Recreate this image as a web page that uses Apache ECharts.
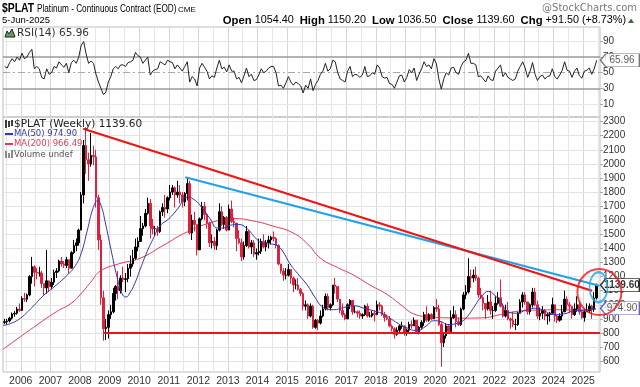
<!DOCTYPE html>
<html><head><meta charset="utf-8">
<script src="https://cdn.jsdelivr.net/npm/echarts@6/dist/echarts.min.js"></script>
<style>html,body{margin:0;padding:0;background:#fff}#c{width:640px;height:387px}</style>
</head><body><div id="c"></div>
<script>
// ---------- data (monthly) ----------
const startYear = 2005, startMonth = 6;   // first bar: June 2005
const firstOpen = 875;
const closes = [
 880,885,905,935,940,970,960,
 1045,1040,1070,1200,1270,1230,1225,1225,1150,1120,1170,1130,
 1160,1230,1240,1310,1290,1280,1320,1260,1370,1420,1440,1530,
 1780,2130,2030,2000,2060,2050,1760,1460,1050,830,840,930,
 950,1080,1130,1100,1190,1180,1185,1260,1290,1330,1410,1450,
 1540,1560,1650,1720,1560,1540,1540,1520,1660,1690,1680,1760,
 1800,1830,1780,1800,1780,1730,1790,1860,1510,1600,1570,1390,
 1610,1700,1640,1580,1440,1450,1420,1530,1660,1570,1620,1530,
 1680,1590,1580,1470,1440,1340,1420,1520,1410,1440,1360,1370,
 1380,1450,1410,1440,1460,1480,1470,1420,1290,1240,1210,1210,
 1250,1190,1140,1140,1110,1080,990,1000,920,990,840,890,
 870,920,970,1060,980,1000,1140,1130,1040,960,930,900,
 1000,1030,950,950,940,920,930,990,920,920,940,930,
 1000,990,930,910,900,850,830,790,820,850,850,795,
 820,860,850,890,810,840,875,930,890,930,900,980,
 970,860,730,780,850,810,910,930,880,860,970,1070,
 1090,1200,1190,1210,1190,1070,1050,1010,970,1020,960,960,
 1010,1050,990,920,960,900,890,860,860,940,1020,1070,
 1020,950,1000,1090,1000,920,940,960,920,930,940,1000,
 920,890,920,950,1040,1000,990,930,970,1000,950,910,
 950,960,990,970,1048,1139.6];
const highs = [
 900,900,915,945,955,985,1010,
 1060,1085,1080,1210,1340,1280,1260,1270,1240,1150,1390,1170,
 1190,1250,1260,1320,1340,1310,1340,1320,1380,1460,1470,1540,
 1800,2170,2260,2080,2220,2130,2100,1780,1500,1100,900,960,
 1000,1120,1140,1240,1210,1270,1225,1290,1350,1390,1470,1480,
 1630,1580,1680,1760,1750,1610,1560,1560,1670,1720,1780,1770,
 1850,1850,1840,1880,1850,1800,1800,1900,1880,1640,1660,1530,
 1620,1730,1730,1650,1590,1500,1480,1540,1720,1700,1630,1630,
 1710,1740,1620,1570,1530,1470,1450,1560,1530,1460,1460,1400,
 1470,1470,1500,1460,1490,1490,1520,1480,1430,1290,1260,1260,
 1290,1250,1200,1180,1190,1120,1090,1030,1010,1010,1000,900,
 900,960,1000,1080,1080,1010,1140,1190,1100,1040,1010,940,
 1010,1040,1030,990,960,960,940,1000,1010,950,960,960,
 1030,1020,1000,950,930,920,860,840,840,860,880,850,
 830,880,890,910,880,850,890,950,990,940,940,990,
 1040,1000,880,800,870,860,960,990,960,910,980,1090,
 1140,1330,1250,1250,1270,1200,1120,1060,1010,1070,1100,990,
 1060,1090,1180,1010,1000,1020,910,950,900,950,1040,1090,
 1090,1020,1010,1120,1120,1030,980,990,970,940,950,1050,
 950,930,940,1000,1100,1060,1020,970,1010,1060,1020,960,
 970,1010,1010,1000,1090,1150.2];
const lows = [
 862,860,875,895,915,930,950,
 960,1020,1020,1060,1150,1130,1180,1200,1120,1070,1080,1090,
 1110,1140,1190,1230,1270,1260,1260,1220,1260,1360,1380,1420,
 1530,1720,1930,1880,1980,1990,1690,1390,1000,745,750,760,
 900,940,1030,1040,1080,1160,1090,1160,1200,1270,1320,1380,
 1480,1490,1550,1640,1470,1500,1490,1490,1510,1630,1620,1650,
 1740,1780,1690,1760,1720,1690,1700,1740,1500,1460,1520,1350,
 1400,1600,1600,1540,1410,1400,1390,1390,1520,1560,1540,1520,
 1540,1580,1550,1380,1430,1310,1320,1410,1400,1360,1340,1320,
 1350,1360,1400,1380,1400,1430,1450,1400,1280,1220,1170,1180,
 1200,1150,1090,1110,1100,1060,960,960,900,910,830,830,
 820,860,910,960,960,960,990,1080,1020,940,910,890,
 900,970,930,940,910,900,900,920,910,910,910,880,
 930,960,920,880,890,840,810,760,780,800,830,780,
 780,800,830,860,800,790,830,850,880,880,890,900,
 950,850,560,700,760,800,810,900,840,850,850,960,
 1040,1080,1120,1160,1170,1050,1040,960,900,960,930,900,
 950,1000,980,910,910,890,830,840,820,850,950,980,
 1000,930,930,980,990,900,890,900,890,860,880,940,
 880,870,880,890,950,960,940,900,920,950,930,900,
 880,950,940,900,950,1036.5];
const rsi = [
 58,56,63,68,64,70,66,
 75,68,70,76,80,55,58,55,44,42,55,48,
 50,58,56,64,60,57,62,50,63,66,62,70,
 85,90,74,62,65,62,48,38,30,22,25,38,
 45,55,58,55,60,60,58,63,64,66,76,72,
 70,62,66,70,47,52,54,55,64,62,60,66,
 64,63,55,60,56,52,58,64,38,45,42,33,
 56,62,57,52,42,46,44,56,66,55,57,51,
 60,52,52,42,44,37,46,56,45,48,40,41,
 47,55,50,52,56,58,58,50,33,34,30,37,
 45,38,34,38,36,33,24,34,30,42,27,35,
 40,48,52,62,52,55,66,64,50,42,40,38,
 52,58,45,48,47,44,47,58,45,46,50,48,
 60,56,45,43,44,36,35,30,38,46,47,38,
 44,54,50,56,40,48,55,64,58,60,55,68,
 62,42,29,42,50,47,56,57,50,48,58,64,
 66,75,62,62,60,45,46,42,38,46,41,40,
 52,56,60,45,50,44,42,40,42,52,58,64,
 56,44,52,63,48,40,45,47,42,45,46,55,
 45,42,47,53,64,53,52,44,52,56,46,43,
 52,53,56,48,55,65.96];
const ma50 = [[2005.40,853],[2005.7,870],[2006.0,907],[2006.4,985],[2006.75,1062],[2007.2,1140],[2007.57,1210],[2007.85,1280],[2008.05,1370],[2008.25,1530],[2008.45,1690],[2008.6,1740],[2008.72,1700],[2008.85,1590],[2009.05,1390],[2009.25,1200],[2009.42,1080],[2009.55,1055],[2009.7,1090],[2009.85,1150],[2010.05,1260],[2010.27,1378],[2010.5,1480],[2010.7,1560],[2011.0,1610],[2011.3,1680],[2011.63,1765],[2011.9,1740],[2012.1,1695],[2012.4,1610],[2012.64,1545],[2012.85,1545],[2013.08,1565],[2013.35,1570],[2013.65,1540],[2013.95,1470],[2014.2,1435],[2014.5,1430],[2014.67,1420],[2014.85,1380],[2015.1,1290],[2015.4,1210],[2015.68,1140],[2015.95,1050],[2016.2,985],[2016.57,965],[2016.9,980],[2017.25,993],[2017.6,975],[2017.93,957],[2018.3,930],[2018.6,887],[2019.0,840],[2019.4,817],[2019.7,850],[2019.95,887],[2020.2,880],[2020.43,860],[2020.7,865],[2020.9,880],[2021.1,920],[2021.35,995],[2021.57,1060],[2021.8,1095],[2022.0,1070],[2022.25,1010],[2022.45,950],[2022.75,940],[2023.1,965],[2023.4,975],[2023.7,955],[2024.0,930],[2024.35,935],[2024.7,957],[2025.0,960],[2025.43,974.9]];
const ma200 = [[2005.40,684],[2005.9,760],[2006.42,838],[2007.2,950],[2007.7,1010],[2008.0,1070],[2008.4,1170],[2008.68,1238],[2009.3,1290],[2010.03,1330],[2010.8,1420],[2011.63,1518],[2012.52,1589],[2013.2,1612],[2013.86,1595],[2014.5,1560],[2015.2,1510],[2015.7,1430],[2016.13,1330],[2016.7,1265],[2017.25,1210],[2017.8,1140],[2018.4,1070],[2018.9,990],[2019.28,935],[2019.8,915],[2020.43,907],[2021.0,905],[2021.57,907],[2022.2,930],[2022.9,957],[2023.5,962],[2024.0,965],[2024.7,963],[2025.43,966.49]];
const yearLabels = [2006,2007,2008,2009,2010,2011,2012,2013,2014,2015,2016,2017,2018,2019,2020,2021,2022,2023,2024,2025];
const halfYearGrid = [2005.5,2006,2006.5,2007,2007.5,2008,2008.5,2009,2009.5,2010,2010.5,2011,2011.5,2012,2012.5,2013,2013.5,2014,2014.5,2015,2015.5,2016,2016.5,2017,2017.5,2018,2018.5,2019,2019.5,2020,2020.5,2021,2021.5,2022,2022.5,2023,2023.5,2024,2024.5,2025,2025.5];
const priceTicks = [600,700,800,900,1000,1100,1200,1300,1400,1500,1600,1700,1800,1900,2000,2100,2200,2300];
const rsiTicks = [10,30,50,70,90];
const supportLine = [[2008.8,800],[2025.57,800]];
const redTrend = [[2008.11,2250],[2025.3,1100]];
const blueTrend = [[2011.56,1905],[2025.55,1135]];
const redCircle = [[2025.55,1090]];
const blueEllipse = [[2025.52,1125]];
const lastClose = 1139.60, lastMa50 = 974.90, lastMa200 = 966.49, lastRsi = 65.96;
const X_MIN = 2005.40, X_MAX = 2025.57;

// ---------- build ----------
const monthX = i => startYear + (startMonth - 1 + i + 0.5) / 12;
const ohlc = closes.map((c, i) => {
  const o = i ? closes[i - 1] : firstOpen;
  return [monthX(i), o, c, Math.min(lows[i], o, c), Math.max(highs[i], o, c)];
});
const rsiData = rsi.map((v, i) => [monthX(i), v]);
const UP = '#000000', DOWN = '#e0203f';
const FONT = '"Liberation Sans", Arial, sans-serif';
const VFONT = '"DejaVu Sans", Verdana, sans-serif';

function gridLines(xi, yi, hLines) {
  return {
    type: 'line', xAxisIndex: xi, yAxisIndex: yi, data: [], silent: true, z: 1,
    markLine: {
      silent: true, symbol: 'none', animation: false, z: 1, label: { show: false },
      data: halfYearGrid.map(v => ({ xAxis: v, lineStyle: { color: Number.isInteger(v) ? '#d6d6d6' : '#e6e6e6', width: 1, type: 'solid' } }))
        .concat(hLines)
    }
  };
}
const arrowPath = 'path://M0,6L6,0L44,0L44,12L6,12Z';
function valueTag(xi, yi, y, text, border, color, bold) {
  return {
    type: 'scatter', xAxisIndex: xi, yAxisIndex: yi, clip: false, z: 20, silent: true,
    data: [[X_MAX, y]], symbol: arrowPath, symbolSize: [39, 13], symbolOffset: [20, 0],
    itemStyle: { color: '#fff', borderColor: border, borderWidth: 1 },
    label: { show: true, position: 'inside', offset: [2, 0], formatter: text, fontFamily: FONT, fontSize: 10, fontWeight: bold ? 'bold' : 'normal', color: color }
  };
}
const T = (x, y, text, font, fill, extra) => Object.assign({ type: 'text', x: x, y: y, z: 100, style: Object.assign({ text: text, font: font, fill: fill, verticalAlign: 'middle' }, extra || {}) });

const option = {
  animation: false,
  backgroundColor: '#fff',
  grid: [
    { left: 3, right: 40, top: 27, height: 90, show: true, borderColor: '#bdbdbd', borderWidth: 1 },
    { left: 3, right: 40, top: 117, height: 258, show: true, borderColor: '#bdbdbd', borderWidth: 1 }
  ],
  xAxis: [
    { type: 'value', gridIndex: 0, min: X_MIN, max: X_MAX, axisLabel: { show: false }, axisTick: { show: false }, axisLine: { show: false }, splitLine: { show: false } },
    { type: 'value', gridIndex: 1, min: X_MIN, max: X_MAX, axisLine: { show: false }, splitLine: { show: false },
      axisTick: { show: false },
      axisLabel: { customValues: yearLabels, formatter: v => String(Math.round(v)), fontFamily: FONT, fontSize: 10.5, color: '#333', margin: 4 } }
  ],
  yAxis: [
    { type: 'value', gridIndex: 0, position: 'right', min: -6.8, max: 108.6, splitLine: { show: false }, axisLine: { show: false },
      axisTick: { show: true, customValues: rsiTicks, length: 3, lineStyle: { color: '#aaa' } },
      axisLabel: { customValues: rsiTicks, formatter: v => String(v), fontFamily: FONT, fontSize: 10, color: '#333', margin: 3 } },
    { type: 'value', gridIndex: 1, position: 'right', min: 522.8, max: 2333, splitLine: { show: false }, axisLine: { show: false },
      axisTick: { show: true, customValues: priceTicks, length: 3, lineStyle: { color: '#aaa' } },
      axisLabel: { customValues: priceTicks, formatter: v => String(v), fontFamily: FONT, fontSize: 10, color: '#333', margin: 3 } }
  ],
  series: [
    gridLines(0, 0, [
      { yAxis: 90, lineStyle: { color: '#e6e6e6', width: 1, type: 'solid' } },
      { yAxis: 10, lineStyle: { color: '#e6e6e6', width: 1, type: 'solid' } },
      { yAxis: 70, lineStyle: { color: '#9a9a9a', width: 1.5, type: 'solid' } },
      { yAxis: 30, lineStyle: { color: '#9a9a9a', width: 1.5, type: 'solid' } },
      { yAxis: 50, lineStyle: { color: '#a8a8a8', width: 1, type: [7, 3, 2, 3] } }
    ]),
    gridLines(1, 1, priceTicks.map(v => ({ yAxis: v, lineStyle: { color: '#e3e3e3', width: 1, type: 'solid' } }))),
    // RSI fills (above 70 green, below 30 red)
    { type: 'line', xAxisIndex: 0, yAxisIndex: 0, stack: 'hi', symbol: 'none', z: 3, silent: true,
      data: rsiData.map(d => [d[0], 70]), lineStyle: { width: 0, opacity: 0 } },
    { type: 'line', xAxisIndex: 0, yAxisIndex: 0, stack: 'hi', symbol: 'none', z: 3, silent: true,
      data: rsiData.map(d => [d[0], Math.max(d[1] - 70, 0)]), lineStyle: { width: 0, opacity: 0 }, areaStyle: { color: '#5f9f5f', opacity: 1 } },
    { type: 'line', xAxisIndex: 0, yAxisIndex: 0, stack: 'lo', symbol: 'none', z: 3, silent: true,
      data: rsiData.map(d => [d[0], Math.min(d[1], 30)]), lineStyle: { width: 0, opacity: 0 } },
    { type: 'line', xAxisIndex: 0, yAxisIndex: 0, stack: 'lo', symbol: 'none', z: 3, silent: true,
      data: rsiData.map(d => [d[0], 30 - Math.min(d[1], 30)]), lineStyle: { width: 0, opacity: 0 }, areaStyle: { color: '#c8707c', opacity: 1 } },
    { type: 'line', name: 'RSI', xAxisIndex: 0, yAxisIndex: 0, data: rsiData, symbol: 'none', z: 5,
      lineStyle: { color: '#222', width: 1 } },
    // price
    { type: 'line', xAxisIndex: 1, yAxisIndex: 1, data: ma200, smooth: true, symbol: 'none', z: 4, lineStyle: { color: '#e33a55', width: 1 } },
    { type: 'candlestick', xAxisIndex: 1, yAxisIndex: 1, data: ohlc, encode: { x: 0, y: [1, 2, 3, 4] }, barWidth: 2, z: 5,
      itemStyle: { color: UP, color0: DOWN, borderColor: UP, borderColor0: DOWN, borderWidth: 1 } },
    { type: 'line', xAxisIndex: 1, yAxisIndex: 1, data: ma50, smooth: true, symbol: 'none', z: 6, lineStyle: { color: '#3535b0', width: 1 } },
    { type: 'line', xAxisIndex: 1, yAxisIndex: 1, data: supportLine, symbol: 'none', z: 7, lineStyle: { color: '#f01414', width: 2 } },
    { type: 'line', xAxisIndex: 1, yAxisIndex: 1, data: blueTrend, symbol: 'none', z: 7, lineStyle: { color: '#1ea2ea', width: 2.2 } },
    { type: 'line', xAxisIndex: 1, yAxisIndex: 1, data: redTrend, symbol: 'none', z: 8, lineStyle: { color: '#f01414', width: 2.2 } },
    valueTag(1, 1, lastMa50, '974.90', '#3a3ab8', '#333', false),
    valueTag(1, 1, lastClose, '1139.60', '#000', '#000', true),
    valueTag(0, 0, lastRsi, '65.96', '#555', '#333', false),
    { type: 'scatter', xAxisIndex: 1, yAxisIndex: 1, data: blueEllipse, clip: false, z: 25, silent: true, symbol: 'circle', symbolSize: [18, 30],
      itemStyle: { color: 'rgba(0,0,0,0)', borderColor: '#1ea2ea', borderWidth: 2 } },
    { type: 'scatter', xAxisIndex: 1, yAxisIndex: 1, data: redCircle, clip: false, z: 26, silent: true, symbol: 'circle', symbolSize: [44, 46],
      itemStyle: { color: 'rgba(0,0,0,0)', borderColor: '#f01414', borderWidth: 2 } }
  ],
  graphic: [
    Object.assign(T(2, 8, '$PLAT', 'bold 13px "Liberation Sans", sans-serif', '#000'), { scaleX: 0.8 }),
    Object.assign(T(37, 9, 'Platinum - Continuous Contract (EOD)', '10px "Liberation Sans", sans-serif', '#000'), { scaleX: 0.82 }),
    T(178, 9.5, 'CME', '8px "Liberation Sans", sans-serif', '#000'),
    T(637, 8, '@StockCharts.com', '10px ' + VFONT, '#7a7a7a', { align: 'right' }),
    T(2, 20.5, '5-Jun-2025', '9.5px ' + FONT, '#000'),
    T(626, 20.5, '{b|Open} {n|1054.40}  {b|High} {n|1150.20}  {b|Low} {n|1036.50}  {b|Close} {n|1139.60}  {b|Chg} {n|+91.50 (+8.73%)}', '10.8px ' + FONT, '#000',
      { align: 'right', rich: { b: { font: 'bold 11.3px ' + FONT, fill: '#000' }, n: { font: '10.8px ' + FONT, fill: '#000' } } }),
    { type: 'polygon', z: 100, shape: { points: [[628, 23], [631, 18.5], [634, 23]] }, style: { fill: '#3b6b3b' } },
    // RSI legend
    { type: 'polygon', z: 100, shape: { points: [[5, 37], [7, 31], [9, 34], [12, 29], [15, 37]] }, style: { fill: '#5f9f5f', stroke: '#222', lineWidth: 1 } },
    T(17, 33, 'RSI(14) 65.96', '10.5px ' + VFONT, '#333'),
    // Price legend
    { type: 'line', z: 100, shape: { x1: 6, y1: 120, x2: 6, y2: 128 }, style: { stroke: '#000', lineWidth: 1.5 } },
    { type: 'line', z: 100, shape: { x1: 9, y1: 121, x2: 9, y2: 127 }, style: { stroke: '#000', lineWidth: 1.5 } },
    { type: 'line', z: 100, shape: { x1: 12, y1: 120, x2: 12, y2: 126 }, style: { stroke: '#000', lineWidth: 1.5 } },
    T(14, 124.5, '$PLAT (Weekly) 1139.60', '10.5px ' + VFONT, '#222'),
    { type: 'line', z: 100, shape: { x1: 5, y1: 134, x2: 13, y2: 134 }, style: { stroke: '#3535b0', lineWidth: 2 } },
    T(14, 134, 'MA(50) 974.90', '8.5px ' + VFONT, '#3535b0'),
    { type: 'line', z: 100, shape: { x1: 5, y1: 144, x2: 13, y2: 144 }, style: { stroke: '#e33a55', lineWidth: 2 } },
    T(14, 144, 'MA(200) 966.49', '8.5px ' + VFONT, '#e33a55'),
    { type: 'line', z: 100, shape: { x1: 6, y1: 151, x2: 6, y2: 158 }, style: { stroke: '#666', lineWidth: 1.5 } },
    { type: 'line', z: 100, shape: { x1: 9, y1: 153, x2: 9, y2: 158 }, style: { stroke: '#666', lineWidth: 1.5 } },
    { type: 'line', z: 100, shape: { x1: 12, y1: 150, x2: 12, y2: 158 }, style: { stroke: '#666', lineWidth: 1.5 } },
    T(14, 154.5, 'Volume undef', '8.5px ' + VFONT, '#555')
  ]
};
const chart = echarts.init(document.getElementById('c'), null, { renderer: 'canvas' });
chart.setOption(option);
</script></body></html>
